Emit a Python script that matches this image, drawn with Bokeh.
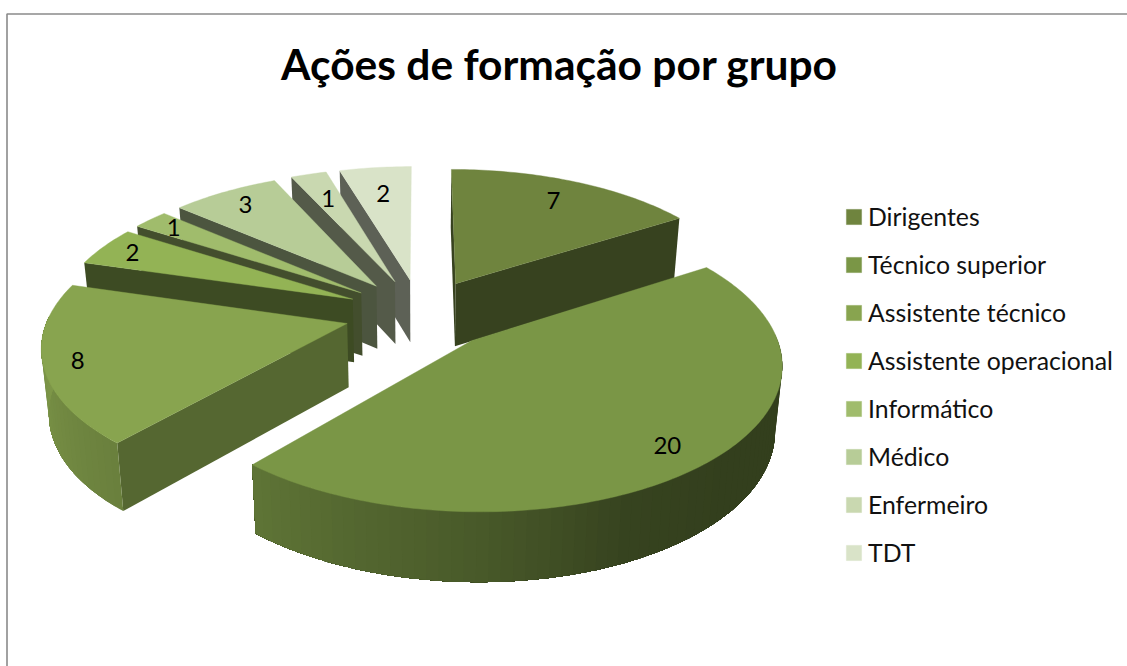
import numpy as np
from bokeh.plotting import figure
from bokeh.embed import file_html
from bokeh.resources import INLINE
from bokeh.models import ColumnDataSource, Legend, LegendItem, Label
from bokeh.core.properties import value

TITLE = "Ações de formação por grupo"
categories = ["Dirigentes", "Técnico superior", "Assistente técnico", "Assistente operacional",
              "Informático", "Médico", "Enfermeiro", "TDT"]
values = [7, 20, 8, 2, 1, 3, 1, 2]

top_colors = ["#6F843E", "#7A9646", "#88A44F", "#93B355", "#A0BC6C", "#B7CC97", "#C9D8B0", "#D9E3C8"]
radial_shade = [0.50, 0.50, 0.63, 0.42, 0.42, 0.42, 0.42, 0.43]
label_radius = [0.80, 0.86, 0.89, 0.88, 0.88, 0.85, 0.75, 0.75]
paint_order = [7, 6, 5, 4, 3, 2, 0, 1]

# projection of the tilted pie onto the page (page pixels)
CX, CY, R, EXPLODE, TILT, DIST, FLOOR = 420.0, 313.0, 298.0, 75.6, 0.464, 2100.0, 0.98
DEPTH_BASE, DEPTH_PERSP = 30.0, 33.5
W, H = 1127, 666


def project(x, z, floor=False):
    s = DIST / (DIST + z)
    k = FLOOR if floor else 1.0
    return CX + x * s * k, CY - TILT * z * s + ((DEPTH_BASE + DEPTH_PERSP * s) if floor else 0.0)


def rim(i_bis, theta, r=R):
    ex, ez = EXPLODE * np.sin(i_bis), EXPLODE * np.cos(i_bis)
    return ex + r * np.sin(theta), ez + r * np.cos(theta)


def mix(hex_color, f):
    c = [int(hex_color[j:j + 2], 16) for j in (1, 3, 5)]
    return "#%02x%02x%02x" % tuple(int(min(255, v * f)) for v in c)


def wall_shade(theta):
    deg = np.degrees(theta)
    return float(np.interp(deg, [90, 130, 155, 180, 220, 270], [0.42, 0.42, 0.45, 0.60, 0.78, 0.93]))


p = figure(width=W, height=H, x_range=(0, W), y_range=(H, 0), output_backend="svg",
           toolbar_location=None, min_border=0, outline_line_color=None, margin=0)
p.axis.visible = False
p.grid.visible = False
p.background_fill_color = "white"
p.border_fill_color = "white"

# chart-area border: left and top edges only, as the page shows them
p.line([6.5, 6.5, W], [H, 13.5, 13.5], line_color="#8A8A8A", line_width=1.6)

total = sum(values)
edges = np.concatenate([[0.0], np.cumsum(values)]) / total * 2 * np.pi
tops = {}
for i in paint_order:
    a0, a1 = edges[i], edges[i + 1]
    bis = (a0 + a1) / 2
    ax, az = EXPLODE * np.sin(bis), EXPLODE * np.cos(bis)
    th = np.linspace(a0, a1, max(4, int(np.degrees(a1 - a0) / 1.0)))
    gx, gz = rim(bis, th)
    wx, wy, wc = [], [], []

    def add_radial(t):
        rx, rz = rim(bis, t)
        xs0, ys0 = project(np.array([ax, rx]), np.array([az, rz]))
        xs1, ys1 = project(np.array([rx, ax]), np.array([rz, az]), True)
        wx.append(list(xs0) + list(xs1))
        wy.append(list(ys0) + list(ys1))
        wc.append(mix(top_colors[i], radial_shade[i]))

    if np.sin(a1) > 1e-6:
        add_radial(a1)
    if np.sin(a0) <= 1e-6:
        add_radial(a0)
    # the round wall: bands painted from the full remaining arc so that no seam shows
    idx = [j for j in range(len(th) - 1) if np.cos((th[j] + th[j + 1]) / 2) < 0.05]
    step = 2
    for j in idx[::step]:
        mid = (th[j] + th[j + 1]) / 2
        last = idx[-1] + 2
        xs0, ys0 = project(gx[j:last], gz[j:last])
        xs1, ys1 = project(gx[j:last][::-1], gz[j:last][::-1], True)
        wx.append(list(xs0) + list(xs1))
        wy.append(list(ys0) + list(ys1))
        wc.append(mix(top_colors[i], wall_shade(mid)))
    if wx:
        p.patches("x", "y", source=ColumnDataSource(dict(x=wx, y=wy, c=wc)),
                  fill_color="c", line_color=None)
    tx, ty = project(np.concatenate([[ax], gx]), np.concatenate([[az], gz]))
    tops[i] = p.patch(list(tx), list(ty), fill_color=top_colors[i], line_color=top_colors[i], line_width=0.4)

lx, ly, lt = [], [], []
for i in range(len(values)):
    bis = (edges[i] + edges[i + 1]) / 2
    gx, gz = rim(bis, bis, R * label_radius[i])
    x, y = project(gx, gz)
    lx.append(float(x)); ly.append(float(y)); lt.append(str(values[i]))
p.text(lx, ly, text=lt, text_font=value("Lato"), text_font_size="24px", text_color="black",
       text_align="center", text_baseline="middle")

p.add_layout(Label(x=559, y=63, text=TITLE, text_font="Lato", text_font_size="42.5px",
                   text_font_style="bold", text_align="center", text_baseline="middle",
                   text_color="black"))

legend = Legend(items=[LegendItem(label=c, renderers=[tops[i]]) for i, c in enumerate(categories)],
                location=(844, 99), orientation="vertical", spacing=19, padding=0, margin=0,
                glyph_width=19, glyph_height=19, label_standoff=5, label_text_font="Lato",
                label_text_font_size="24.8px", label_text_color="#111111",
                background_fill_alpha=0, border_line_color=None)
p.add_layout(legend)

open("out.html", "w").write(file_html(p, INLINE))
